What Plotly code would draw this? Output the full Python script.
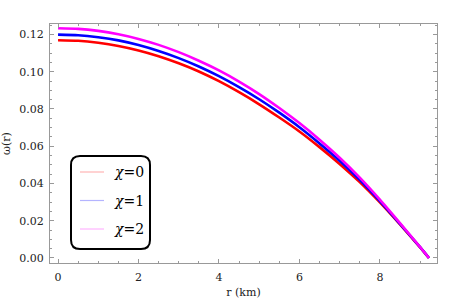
import plotly.graph_objects as go

r_km = [0, 0.5, 1, 1.5, 2, 2.5, 3, 3.5, 4, 4.5, 5, 5.5, 6, 6.5, 7, 7.5, 8, 8.5, 9, 9.22]
omega_chi0 = [0.1169, 0.1166, 0.1155, 0.1138, 0.1114, 0.1083, 0.1045, 0.1001, 0.0949, 0.0890,
              0.0825, 0.0754, 0.0679, 0.0595, 0.0505, 0.0407, 0.0298, 0.0180, 0.0057, 0.0]
omega_chi1 = [0.1199, 0.1196, 0.1185, 0.1168, 0.1143, 0.1111, 0.1073, 0.1028, 0.0976, 0.0917,
              0.0852, 0.0780, 0.0702, 0.0615, 0.0522, 0.0419, 0.0305, 0.0183, 0.0058, 0.0]
omega_chi2 = [0.1233, 0.1230, 0.1219, 0.1201, 0.1176, 0.1144, 0.1105, 0.1059, 0.1007, 0.0947,
              0.0880, 0.0805, 0.0724, 0.0635, 0.0538, 0.0431, 0.0313, 0.0187, 0.0059, 0.0]

series_labels = ["<i>χ</i>=0", "<i>χ</i>=1", "<i>χ</i>=2"]
series_colors = ["#ff0000", "#0000ff", "#ff00ff"]
legend_colors = ["#ffb4b4", "#b4b4ff", "#ffb4ff"]

x_ticks = [0, 2, 4, 6, 8]
y_ticks = [0.00, 0.02, 0.04, 0.06, 0.08, 0.10, 0.12]
y_tick_text = ["0.00", "0.02", "0.04", "0.06", "0.08", "0.10", "0.12"]

W, H = 463, 307
ML, MR, MT, MB = 50, 26, 24, 44
PW, PH = W - ML - MR, H - MT - MB

def px(xp):
    return (xp - ML) / PW

def py(yp):
    return (H - MB - yp) / PH

fig = go.Figure()
for ys, col in zip([omega_chi0, omega_chi1, omega_chi2], series_colors):
    fig.add_trace(go.Scatter(x=r_km, y=ys, mode="lines",
                             line=dict(color=col, width=2.6, shape="spline", smoothing=0.6),
                             showlegend=False, hoverinfo="skip"))

serif = "DejaVu Serif"
axis_common = dict(showline=True, linecolor="#999999", linewidth=1, mirror="ticks",
                   ticks="inside", ticklen=4, tickcolor="#999999", showgrid=False,
                   zeroline=False, automargin=False,
                   tickfont=dict(family=serif, size=11, color="#222222"))

fig.update_xaxes(range=[-0.2, 9.42], tickvals=x_ticks,
                 minor=dict(dtick=0.5, ticklen=2, ticks="inside", tickcolor="#999999"),
                 title=dict(text="r (km)", font=dict(family=serif, size=11, color="#222222"), standoff=5),
                 ticklabelstandoff=4,
                 **axis_common)
fig.update_yaxes(range=[-0.0027, 0.1256], tickvals=y_ticks, ticktext=y_tick_text,
                 minor=dict(dtick=0.005, tick0=0, ticklen=2, ticks="inside", tickcolor="#999999"),
                 title=dict(text="ω(r)", font=dict(family=serif, size=11, color="#222222"), standoff=11),
                 ticklabelstandoff=3,
                 **axis_common)

# rounded legend frame
x0, x1, y0, y1 = px(71), px(150), py(249), py(156)
rx, ry = 9 / PW, 9 / PH
path = (f"M {x0+rx},{y0} L {x1-rx},{y0} Q {x1},{y0} {x1},{y0+ry} "
        f"L {x1},{y1-ry} Q {x1},{y1} {x1-rx},{y1} L {x0+rx},{y1} "
        f"Q {x0},{y1} {x0},{y1-ry} L {x0},{y0+ry} Q {x0},{y0} {x0+rx},{y0} Z")
shapes = [dict(type="path", path=path, xref="paper", yref="paper",
               line=dict(color="black", width=2), fillcolor="white", layer="above")]
annotations = []
for i, (lab, lc) in enumerate(zip(series_labels, legend_colors)):
    yc = py(172 + i * 28.5)
    shapes.append(dict(type="line", xref="paper", yref="paper", x0=px(80), x1=px(104),
                       y0=yc, y1=yc, line=dict(color=lc, width=1.2), layer="above"))
    annotations.append(dict(text=lab, xref="paper", yref="paper", x=px(112), y=yc,
                            xanchor="left", yanchor="middle", showarrow=False,
                            font=dict(family=serif, size=14, color="black")))

fig.update_layout(width=W, height=H, margin=dict(l=ML, r=MR, t=MT, b=MB),
                  plot_bgcolor="white", paper_bgcolor="white",
                  shapes=shapes, annotations=annotations, showlegend=False)

fig.write_html("out.html", config={"displayModeBar": False},
               post_script="document.body.style.margin='0';document.body.style.padding='0';document.body.style.overflow='hidden';")
